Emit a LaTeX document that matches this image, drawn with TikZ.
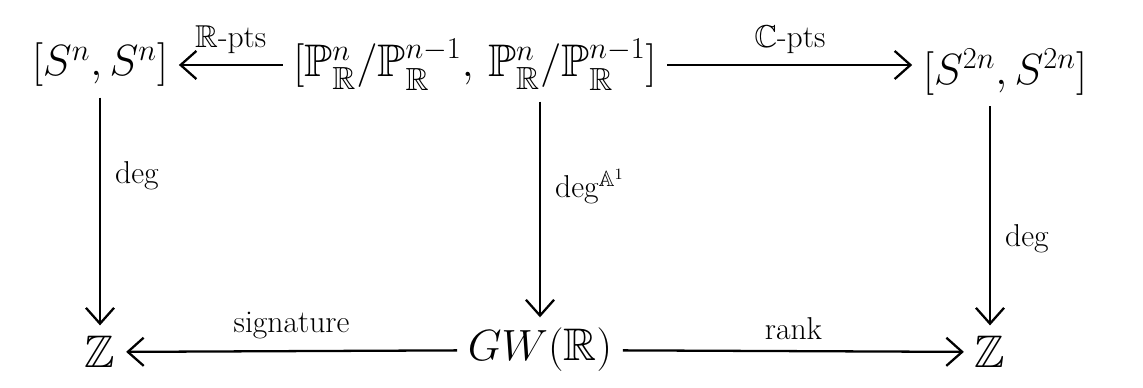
\documentclass[tikz,border=0pt]{standalone}
\usepackage{amsmath,amssymb}
\usetikzlibrary{arrows.meta}
\begin{document}
\begin{tikzpicture}[x=0.02cm,y=-0.02cm,
  obj/.style={inner sep=2pt,font=\fontsize{26}{30}\selectfont},
  lab/.style={font=\fontsize{18}{22}\selectfont,inner sep=2pt},
  arr/.style={-{Straight Barb[length=9pt,width=16pt]},line width=1.3pt,shorten >=4pt,shorten <=4pt}]
\useasboundingbox (0,0) rectangle (1143,388);
\node[obj] (A) at (100,65) {$[S^n, S^n]$};
\node[obj] (B) at (475,65) {$[\mathbb{P}^n_{\mathbb{R}}/\mathbb{P}^{n-1}_{\mathbb{R}},\, \mathbb{P}^n_{\mathbb{R}}/\mathbb{P}^{n-1}_{\mathbb{R}}]$};
\node[obj] (C) at (1005,72) {$[S^{2n}, S^{2n}]$};
\node[obj] (D) at (100,352) {$\mathbb{Z}$};
\node[obj] (E) at (540,350) {$GW(\mathbb{R})$};
\node[obj] (F) at (990,352) {$\mathbb{Z}$};
\draw[arr] (B) -- node[lab,above=4pt] {$\mathbb{R}$-pts} (A);
\draw[arr] (B.east) -- node[lab,above=4pt] {$\mathbb{C}$-pts} (B.east -| C.west);
\draw[arr] (A.south -| D) -- node[lab,right=6pt,pos=0.35] {deg} (D);
\draw[arr] (B.south -| E) -- node[lab,right=6pt,pos=0.4] {deg$^{\mathbb{A}^1}$} (E);
\draw[arr] (C.south -| F) -- node[lab,right=6pt,pos=0.6] {deg} (F);
\draw[arr] (E) -- node[lab,above=4pt] {signature} (D);
\draw[arr] (E) -- node[lab,above=4pt] {rank} (F);
\end{tikzpicture}
\end{document}
